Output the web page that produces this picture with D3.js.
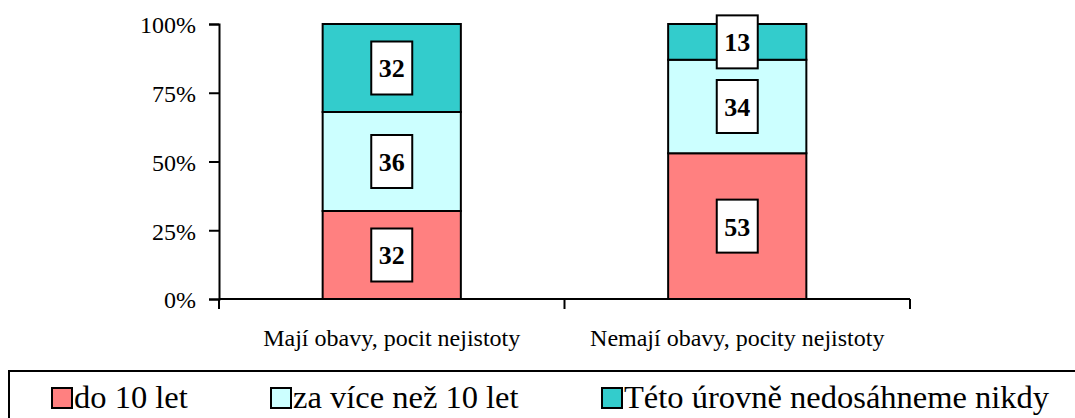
<!DOCTYPE html>
<html>
<head>
<meta charset="utf-8">
<script src="https://cdn.jsdelivr.net/npm/d3@7"></script>
<style>
    body { margin: 0; background: #fff; }
    svg { display: block; }
</style>
</head>
<body>
<svg id="chart"></svg>
<script>
let categories = ["Mají obavy, pocit nejistoty", "Nemají obavy, pocity nejistoty"];
let seriesNames = ["do 10 let", "za více než 10 let", "Této úrovně nedosáhneme nikdy"];
let seriesColors = ["#FF8080", "#CCFFFF", "#33CCCC"];
let doDeseti = [32, 53];
let zaVice = [36, 34];
let nikdy = [32, 13];
let yTicks = [0, 0.25, 0.5, 0.75, 1];

const FONT = '"Liberation Serif"';

function init() {
    let width = 1075,
        height = 418,
        svg = d3.select('#chart').attr('width', width).attr('height', height);

    let rows = categories.map((c, i) => ({
        cat: c,
        s0: doDeseti[i],
        s1: zaVice[i],
        s2: nikdy[i]
    }));
    let keys = ['s0', 's1', 's2'];
    let layers = d3.stack().keys(keys).offset(d3.stackOffsetExpand)(rows);

    let x = d3.scaleBand().domain(categories).range([219, 910]).paddingInner(0.6).paddingOuter(0.3);
    let y = d3.scaleLinear().domain([0, 1]).range([299, 24]);

    // bars
    let layerG = svg.selectAll('g.layer')
        .data(layers)
        .enter()
        .append('g')
        .attr('class', 'layer')
        .attr('fill', (d, i) => seriesColors[i]);

    layerG.selectAll('rect')
        .data(d => d)
        .enter()
        .append('rect')
        .attr('x', d => x(d.data.cat))
        .attr('y', d => y(d[1]))
        .attr('width', x.bandwidth())
        .attr('height', d => y(d[0]) - y(d[1]))
        .attr('stroke', 'black')
        .attr('stroke-width', 2);

    // y axis
    let yAxis = svg.append('g')
        .attr('transform', 'translate(219,0)')
        .call(d3.axisLeft(y).tickValues(yTicks).tickSize(10).tickPadding(13).tickFormat(d3.format('.0%')));
    yAxis.attr('font-family', null).attr('font-size', null);
    yAxis.select('.domain').attr('stroke-width', 2);
    yAxis.selectAll('.tick line').attr('stroke-width', 2);
    yAxis.selectAll('text')
        .style('font-family', FONT)
        .style('font-size', '24px')
        .attr('dy', '0.37em')
        .attr('fill', 'black');

    // x axis
    let gap = x.step() - x.bandwidth();
    let bounds = categories.map(c => x(c) - gap / 2);
    bounds.push(x(categories[categories.length - 1]) + x.bandwidth() + gap / 2);
    let xAxis = svg.append('g');
    xAxis.append('line')
        .attr('x1', bounds[0]).attr('x2', bounds[bounds.length - 1])
        .attr('y1', y(0)).attr('y2', y(0))
        .attr('stroke', 'black').attr('stroke-width', 2);
    xAxis.selectAll('line.tk')
        .data(bounds)
        .enter()
        .append('line')
        .attr('class', 'tk')
        .attr('x1', d => d).attr('x2', d => d)
        .attr('y1', y(0)).attr('y2', y(0) + 10)
        .attr('stroke', 'black').attr('stroke-width', 2);
    xAxis.selectAll('text')
        .data(categories)
        .enter()
        .append('text')
        .text(d => d)
        .attr('x', d => x(d) + x.bandwidth() / 2)
        .attr('y', 346)
        .attr('text-anchor', 'middle')
        .style('font-family', FONT)
        .style('font-size', '24px');

    // value labels
    let labels = [];
    layers.forEach((layer, li) => {
        layer.forEach(d => {
            labels.push({
                cat: d.data.cat,
                v: d.data[keys[li]],
                mid: (d[0] + d[1]) / 2
            });
        });
    });
    let lab = svg.selectAll('g.lab')
        .data(labels)
        .enter()
        .append('g')
        .attr('class', 'lab')
        .attr('transform', d => `translate(${x(d.cat) + x.bandwidth() / 2}, ${y(d.mid)})`);
    lab.append('rect')
        .attr('x', -20.5).attr('y', -26.5)
        .attr('width', 41).attr('height', 53)
        .attr('fill', 'white')
        .attr('stroke', 'black')
        .attr('stroke-width', 2);
    lab.append('text')
        .text(d => d.v)
        .attr('text-anchor', 'middle')
        .attr('dy', '0.36em')
        .style('font-family', FONT)
        .style('font-size', '26px')
        .style('font-weight', 'bold');

    // legend
    let legend = svg.append('g');
    legend.append('rect')
        .attr('x', 9).attr('y', 371)
        .attr('width', 1080).attr('height', 80)
        .attr('fill', 'none')
        .attr('stroke', 'black')
        .attr('stroke-width', 2);
    let legX = [52, 271, 602];
    let item = legend.selectAll('g.item')
        .data(seriesNames)
        .enter()
        .append('g')
        .attr('class', 'item')
        .attr('transform', (d, i) => `translate(${legX[i]}, 388)`);
    item.append('rect')
        .attr('width', 20).attr('height', 20)
        .attr('fill', (d, i) => seriesColors[i])
        .attr('stroke', 'black')
        .attr('stroke-width', 2);
    item.append('text')
        .text(d => d)
        .attr('x', 22)
        .attr('y', 20)
        .style('font-family', FONT)
        .style('font-size', '32.5px');
}

onload = function () {
    init();
}
</script>
</body>
</html>
